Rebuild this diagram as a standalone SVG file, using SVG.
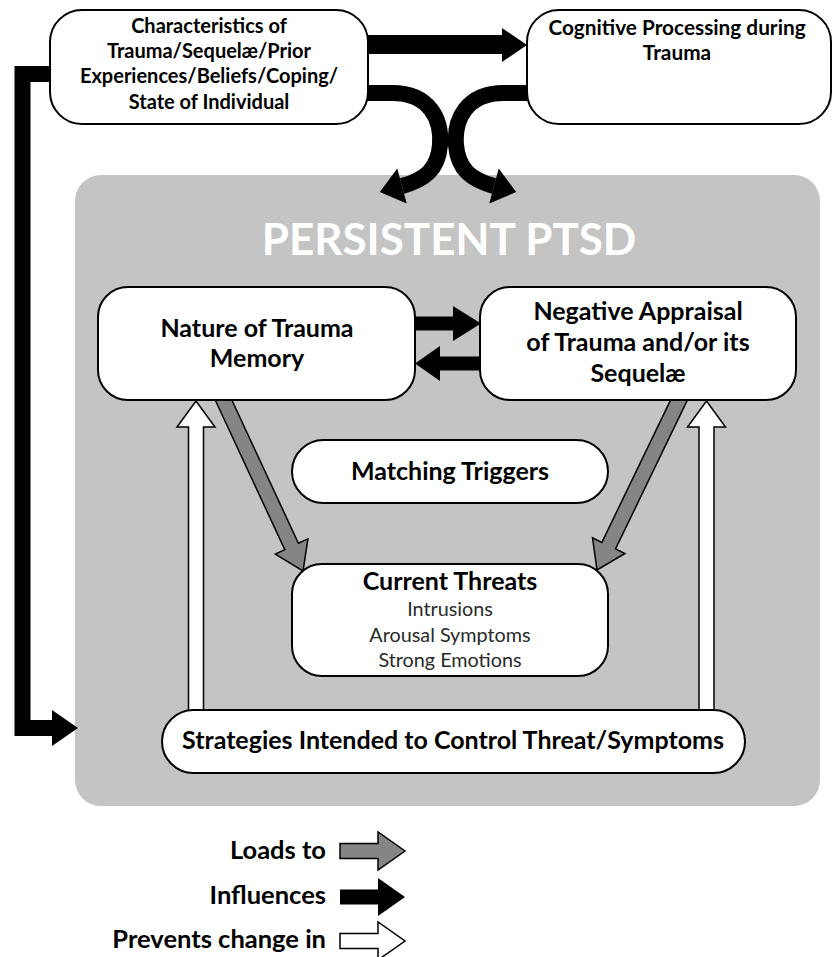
<svg xmlns="http://www.w3.org/2000/svg" width="833" height="957" viewBox="0 0 833 957">
  <style>
    .node { fill: #ffffff; stroke: #000000; stroke-width: 2; }
    .t { font-family: Lato, "Open Sans", sans-serif; font-weight: 700; fill: #000000; text-anchor: middle; }
    .sub { font-family: Lato, "Open Sans", sans-serif; font-weight: 400; fill: #2a2a2a; text-anchor: middle; font-size: 19.8px; }
    .inf { fill: #000000; }
    .infline { fill: none; stroke: #000000; stroke-width: 16; }
    .load { fill: #858585; stroke: #000000; stroke-width: 1.5; stroke-linejoin: miter; }
    .prev { fill: #ffffff; stroke: #000000; stroke-width: 1.5; stroke-linejoin: miter; }
    .leg { font-family: Lato, "Open Sans", sans-serif; font-weight: 700; fill: #000000; text-anchor: end; font-size: 25.5px; }
  </style>

  <!-- persistent PTSD panel -->
  <g id="panel">
    <rect x="75" y="175" width="745" height="631" rx="26" fill="#c4c4c4"/>
    <text class="t" x="449" y="255" font-size="44" style="fill:#ffffff">PERSISTENT PTSD</text>
  </g>

  <!-- connectors -->
  <g id="connectors">
    <!-- characteristics -> cognitive processing -->
    <polygon class="inf" points="367,35 502,35 502,28 527,45 502,62 502,54 367,54"/>
    <!-- characteristics -> strategies (left loop) -->
    <path class="infline" d="M52,74 H22.5 V728 H54" stroke-linejoin="miter"/>
    <polygon class="inf" points="52,710 78,728 52,746"/>
    <!-- characteristics -> panel (curved) -->
    <path class="infline" d="M366,93 H392 C430,93 442,120 440,145 C438,170 424,180 402,186"/>
    <polygon class="inf" points="406.7,203.4 379.8,192.1 397.3,168.6"/>
    <!-- cognitive processing -> panel (curved) -->
    <path class="infline" d="M530,93 H504 C466,93 454,120 456,145 C458,170 472,180 494,186"/>
    <polygon class="inf" points="489.3,203.4 516.2,192.1 498.7,168.6"/>
    <!-- memory <-> appraisal -->
    <polygon class="inf" points="414,316.5 453,316.5 453,306 481,323.5 453,341 453,330.5 414,330.5"/>
    <polygon class="inf" points="481,356.5 440,356.5 440,346 415,363.5 440,381 440,370.5 481,370.5"/>
    <!-- memory -> current threats -->
    <polygon class="load" points="226.6,388.8 298.4,543.3 307.9,538.9 303,571 275.3,554.1 284.8,549.7 213,395.2"/>
    <!-- appraisal -> current threats -->
    <polygon class="load" points="676.1,388.7 601.9,542.4 592.5,537.9 597,570 624.9,553.5 615.5,549 689.7,395.3"/>
    <!-- strategies prevent change in memory / appraisal -->
    <polygon class="prev" points="188.5,712 188.5,427 177,427 196,401 215,427 203.5,427 203.5,712"/>
    <polygon class="prev" points="699,712 699,427 687.5,427 706.5,401 725.5,427 714,427 714,712"/>
  </g>

  <g id="characteristics">
    <rect class="node" x="50" y="10" width="318" height="114" rx="32"/>
    <text class="t" font-size="20" x="209" y="33">Characteristics of</text>
    <text class="t" font-size="20" x="209" y="58">Trauma/Sequelæ/Prior</text>
    <text class="t" font-size="20" x="209" y="83">Experiences/Beliefs/Coping/</text>
    <text class="t" font-size="20" x="209" y="109">State of Individual</text>
  </g>

  <g id="cognitive-processing">
    <rect class="node" x="527" y="10" width="304" height="114" rx="32"/>
    <text class="t" font-size="20.8" x="677" y="35">Cognitive Processing during</text>
    <text class="t" font-size="20.8" x="677" y="60">Trauma</text>
  </g>

  <g id="trauma-memory">
    <rect class="node" x="98" y="287" width="317" height="113" rx="30"/>
    <text class="t" font-size="25" x="257" y="337">Nature of Trauma</text>
    <text class="t" font-size="25" x="257" y="367">Memory</text>
  </g>

  <g id="negative-appraisal">
    <rect class="node" x="480" y="287" width="316" height="113" rx="30"/>
    <text class="t" font-size="25" x="638" y="320">Negative Appraisal</text>
    <text class="t" font-size="25" x="638" y="351">of Trauma and/or its</text>
    <text class="t" font-size="25" x="638" y="382">Sequelæ</text>
  </g>

  <g id="matching-triggers">
    <rect class="node" x="292" y="440" width="316" height="63" rx="31.5"/>
    <text class="t" font-size="25" x="450" y="480">Matching Triggers</text>
  </g>

  <g id="current-threats">
    <rect class="node" x="292" y="564" width="316" height="112" rx="30"/>
    <text class="t" font-size="25" x="450" y="590">Current Threats</text>
    <text class="sub" x="450" y="616">Intrusions</text>
    <text class="sub" x="450" y="642">Arousal Symptoms</text>
    <text class="sub" x="450" y="667">Strong Emotions</text>
  </g>

  <g id="strategies">
    <rect class="node" x="162" y="710" width="583" height="63" rx="31.5"/>
    <text class="t" font-size="25" x="453" y="749">Strategies Intended to Control Threat/Symptoms</text>
  </g>

  <!-- key -->
  <g id="legend">
    <text class="leg" x="326" y="859">Loads to</text>
    <polygon class="load" points="340,843.5 378,843.5 378,832 405,851 378,870 378,858.5 340,858.5"/>
    <text class="leg" x="326" y="904">Influences</text>
    <polygon class="inf" points="340,889.5 378,889.5 378,878 405,897 378,916 378,904.5 340,904.5"/>
    <text class="leg" x="326" y="948">Prevents change in</text>
    <polygon class="prev" points="340,933.5 378,933.5 378,922 405,941 378,960 378,948.5 340,948.5"/>
  </g>
</svg>
